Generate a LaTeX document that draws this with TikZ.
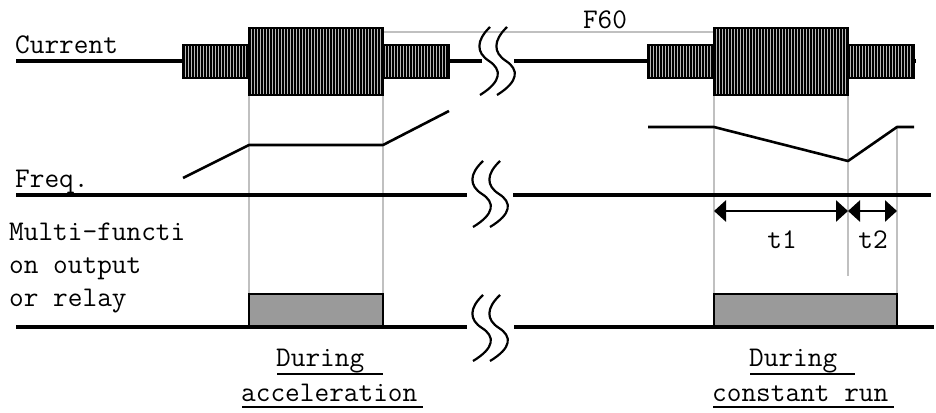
\documentclass[tikz,border=0pt]{standalone}
\usetikzlibrary{arrows.meta}
\definecolor{guidegray}{HTML}{C0C0C0}
\definecolor{relaygray}{HTML}{9A9A9A}
\definecolor{stripegray}{HTML}{B8B8B8}
\newcommand{\StripeBox}[4]{%
  \fill[black] (#1,#2) rectangle (#3,#4);
  \begin{scope}
    \clip (#1,#2) rectangle (#3,#4);
    \foreach \k in {0,...,45} {\draw[stripe] ({#1+2+3*\k},#2) -- ({#1+2+3*\k},#4);}
  \end{scope}
  \draw[boxline] (#1,#2) rectangle (#3,#4);
}
\newcommand{\BreakS}[3]{%
  \draw[brk] ({#1+1},{#2-#3}) .. controls ({#1-13},{#2-0.6*#3}) and ({#1-13},{#2-0.25*#3}) .. (#1,#2)
             .. controls ({#1+13},{#2+0.25*#3}) and ({#1+13},{#2+0.6*#3}) .. ({#1-9},{#2+#3});
}
\begin{document}
\begin{tikzpicture}[x=1pt,y=-1pt,
  axis/.style={line width=3.6pt},
  sig/.style={line width=2.6pt},
  guide/.style={line width=2.2pt, draw=guidegray},
  brk/.style={line width=2.2pt},
  boxline/.style={line width=2.4pt},
  stripe/.style={line width=0.9pt, draw=stripegray},
  uline/.style={line width=2pt},
  dim/.style={line width=2.8pt, {Triangle[length=12pt,width=21pt]}-{Triangle[length=12pt,width=21pt]}},
  lbl/.style={font=\fontsize{28.5}{33}\selectfont\ttfamily, inner sep=0pt}
]
\useasboundingbox (0,0) rectangle (936,412);

% guide lines
\draw[guide] (383,32) -- (714,32);
\draw[guide] (249,95) -- (249,294);
\draw[guide] (383,95) -- (383,294);
\draw[guide] (714,95) -- (714,294);
\draw[guide] (848,95) -- (848,276);
\draw[guide] (897,127) -- (897,294);

% axis lines
\draw[axis] (16,61) -- (482,61);
\draw[axis] (514,61) -- (916,61);
\draw[axis] (16,195) -- (467,195);
\draw[axis] (513,195) -- (931,195);
\draw[axis] (16,327) -- (467,327);
\draw[axis] (514,327) -- (934,327);

% current boxes
\StripeBox{183}{45}{249}{78}
\StripeBox{249}{28}{383}{95}
\StripeBox{383}{45}{449}{78}
\StripeBox{648}{45}{714}{78}
\StripeBox{714}{28}{848}{95}
\StripeBox{848}{45}{914}{78}

% relay boxes
\draw[boxline, fill=relaygray] (249,294) rectangle (383,327);
\draw[boxline, fill=relaygray] (714,294) rectangle (897,327);
\draw[axis] (240,327) -- (392,327);
\draw[axis] (705,327) -- (906,327);

% frequency
\draw[sig, line join=round] (183,178) -- (249,145) -- (383,145) -- (449,111);
\draw[sig, line join=round] (648,127) -- (714,127) -- (848,161) -- (897,127) -- (914,127);

% time spans
\coordinate (a0) at (714,211);
\coordinate (a1) at (848,211);
\coordinate (a2) at (897,211);
\draw[dim] (a0) -- (a1);
\draw[dim] (a1) -- (a2);

% break symbols
\BreakS{489}{61}{34}
\BreakS{506}{61}{34}
\BreakS{482}{194}{33}
\BreakS{499}{194}{33}
\BreakS{482}{328}{33}
\BreakS{499}{328}{33}

% labels
\node[lbl, anchor=base west] (cur) at (15,54) {Current};
\node[lbl, anchor=base west] (frq) at (15,187) {Freq.};
\node[lbl, anchor=base west] (mf1) at (9,240) {Multi-functi};
\node[lbl, anchor=base west] (mf2) at (9,273) {on output};
\node[lbl, anchor=base west] (mf3) at (9,306) {or relay};
\node[lbl, anchor=base] (f60) at (605,29) {F60};
\node[lbl, anchor=base] (t1) at (782,248) {t1};
\node[lbl, anchor=base] (t2) at (873,248) {t2};
\node[lbl, anchor=base west] (d1) at (276,366) {During};
\node[lbl, anchor=base west] (acc) at (241,401) {acceleration};
\node[lbl, anchor=base west] (d2) at (749,366) {During};
\node[lbl, anchor=base west] (cr) at (712,401) {constant run};
\draw[uline] (277,374) -- (383,374);
\draw[uline] (242,407) -- (423,407);
\draw[uline] (750,374) -- (855,374);
\draw[uline] (713,407) -- (894,407);
\end{tikzpicture}
\end{document}
